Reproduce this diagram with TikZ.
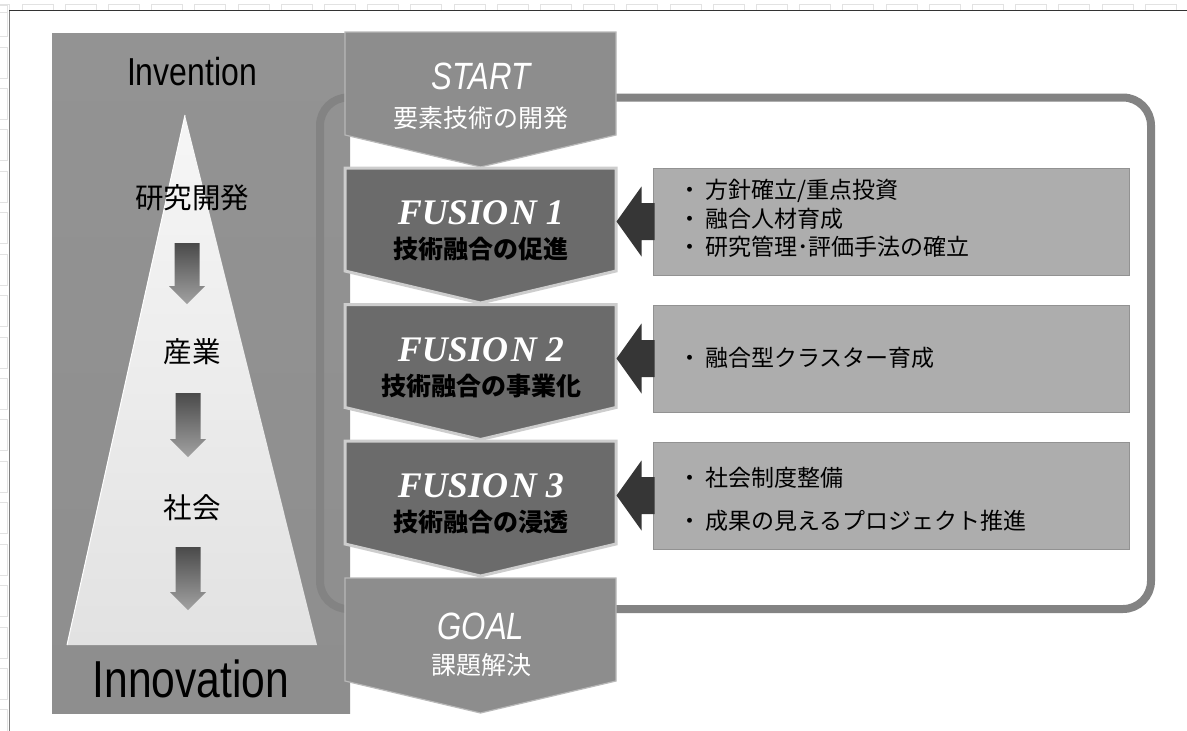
\documentclass[tikz,border=0pt]{standalone}
\usepackage{fontspec}
\setmainfont{Liberation Sans}
\newfontfamily\narrow[FakeStretch=0.82]{Liberation Sans}
\newfontfamily\jp{Noto Sans CJK JP}
\newfontfamily\serifbi{Liberation Serif}
\usetikzlibrary{calc}
\definecolor{panelTop}{HTML}{939393}
\definecolor{panelMid}{HTML}{E6E6E6}
\definecolor{panelBot}{HTML}{8E8E8E}
\definecolor{frameGray}{HTML}{838383}
\definecolor{startFill}{HTML}{8D8D8D}
\definecolor{startEdge}{HTML}{B8B8B8}
\definecolor{fusFill}{HTML}{6B6B6B}
\definecolor{fusEdge}{HTML}{CDCDCD}
\definecolor{boxFill}{HTML}{ADADAD}
\definecolor{boxEdge}{HTML}{929292}
\definecolor{darkArrow}{HTML}{363636}
\definecolor{gridGray}{HTML}{E2E2E2}
\definecolor{triTop}{HTML}{F6F6F6}
\definecolor{triBot}{HTML}{E2E2E2}
\definecolor{arrTop}{HTML}{4A4A4A}
\definecolor{arrBot}{HTML}{A2A2A2}
\tikzset{
  rbox/.style={draw=boxEdge, fill=boxFill, line width=1pt, inner sep=0pt, minimum width=476pt, minimum height=107pt},
  btxt/.style={font=\jp\fontsize{23}{23}\selectfont, anchor=west, inner sep=0pt},
  ftxt/.style={font=\serifbi\bfseries\itshape\fontsize{36}{36}\selectfont, text=white, inner sep=0pt},
  fjp/.style={font=\jp\bfseries\fontsize{25}{25}\selectfont, text=black, inner sep=0pt},
  stxt/.style={font=\narrow\itshape\fontsize{38}{38}\selectfont, text=white, inner sep=0pt},
  sjp/.style={font=\jp\fontsize{25}{25}\selectfont, text=white, inner sep=0pt},
  ljp/.style={font=\jp\fontsize{28.5}{28.5}\selectfont, text=black, inner sep=0pt},
  startblk/.style={fill=startFill, draw=startEdge, line width=1.2pt, line join=miter},
  fusblk/.style={fill=fusFill, draw=fusEdge, line width=3pt, line join=miter},
}
% pentagon block: #1 = top y (px, downward), #2 = style
\newcommand{\pentblk}[2]{%
  \path[#2] (345,{-#1}) -- (616,{-#1}) -- (616,{-(#1+103)}) -- (480.5,{-(#1+135)}) -- (345,{-(#1+103)}) -- cycle;}
% down arrow on the left: #1 = centre x, #2 = top y, #3 = tip y
\newcommand{\dnarrow}[3]{%
  \shade[top color=arrTop, bottom color=arrBot] ({#1-12.5},{-#2}) -- ({#1+12.5},{-#2}) -- ({#1+12.5},{-(#3-18)}) -- ({#1+18},{-(#3-18)}) -- (#1,{-#3}) -- ({#1-18},{-(#3-18)}) -- ({#1-12.5},{-(#3-18)}) -- cycle;}
% fat arrow pointing left out of a box
\newcommand{\fatarrow}[1]{%
  \fill[darkArrow] ($(#1.west)+(2,18.5)$) -- ($(#1.west)+(-11,18.5)$) -- ($(#1.west)+(-11,35)$) -- ($(#1.west)+(-36,0)$) -- ($(#1.west)+(-11,-35)$) -- ($(#1.west)+(-11,-18.5)$) -- ($(#1.west)+(2,-18.5)$) -- cycle;}
\begin{document}
\begin{tikzpicture}[x=1pt,y=1pt]
\useasboundingbox (0,0) rectangle (1187,-731);
\fill[white] (0,0) rectangle (1187,-731);
% faint sheet grid
\foreach \i in {-1,...,27} {\draw[gridGray, line width=0.8pt] ({22+43.2*\i},-4) rectangle ({53+43.2*\i},-12);}
\foreach \k in {-1,...,17} {\draw[gridGray, line width=0.8pt] (-3,{-(47+41.43*\k)}) rectangle (7,{-(78+41.43*\k)});}
\fill[white] (8,-11) rectangle (1187,-731);
\draw[black!80, line width=1pt] (9,-10.5) -- (1187,-10.5);
\draw[gray, line width=1pt] (9,-10.5) -- (9,-731);
% left panel
\shade[top color=panelTop, middle color=panelMid, bottom color=panelBot] (52,-33) rectangle (350,-713);
% frame
\draw[frameGray, line width=8pt, rounded corners=28pt] (320,-97.5) rectangle (1151,-609);
% triangle
\shade[top color=triTop, bottom color=triBot] (185,-115) -- (317,-645) -- (67,-645) -- cycle;
\draw[white, line width=1pt] (185,-115) -- (67,-645);
% left arrows
\dnarrow{187}{243}{304}
\dnarrow{188}{393}{457}
\dnarrow{188}{547}{610}
% left texts
\node[font=\narrow\fontsize{39}{39}\selectfont, inner sep=0pt] (inv) at (192,-72) {Invention};
\node[font=\narrow\fontsize{52}{52}\selectfont, inner sep=0pt] (inn) at (191,-679) {Innovation};
\node[ljp] (l1) at (192,-198) {研究開発};
\node[ljp] (l2) at (192,-352) {産業};
\node[ljp] (l3) at (192,-508) {社会};
% centre column
\pentblk{32}{startblk}
\pentblk{168}{fusblk}
\pentblk{304.5}{fusblk}
\pentblk{441}{fusblk}
\pentblk{578}{startblk}
\node[stxt] (st) at (481,-76) {START};
\node[sjp] (stj) at (481,-118) {要素技術の開発};
\node[ftxt] (f1) at (481,-213) {FUSIO\kern3pt N 1};
\node[fjp] (f1j) at (481,-249) {技術融合の促進};
\node[ftxt] (f2) at (481,-350) {FUSIO\kern3pt N 2};
\node[fjp] (f2j) at (481,-386) {技術融合の事業化};
\node[ftxt] (f3) at (481,-486) {FUSIO\kern3pt N 3};
\node[fjp] (f3j) at (481,-522) {技術融合の浸透};
\node[stxt] (gl) at (481,-626) {GOAL};
\node[sjp] (glj) at (481,-665) {課題解決};
% right boxes and arrows
\node[rbox] (b1) at (891,-221.5) {};
\node[rbox] (b2) at (891,-358.5) {};
\node[rbox] (b3) at (891,-495.5) {};
\fatarrow{b1}
\fatarrow{b2}
\fatarrow{b3}
\node[btxt] (t11) at (678,-191) {・\hspace{4pt}方針確立/重点投資};
\node[btxt] (t12) at (678,-219) {・\hspace{4pt}融合人材育成};
\node[btxt] (t13) at (678,-247) {・\hspace{4pt}研究管理･評価手法の確立};
\node[btxt] (t21) at (678,-358) {・\hspace{4pt}融合型クラスター育成};
\node[btxt] (t31) at (678,-478) {・\hspace{4pt}社会制度整備};
\node[btxt] (t32) at (678,-521) {・\hspace{4pt}成果の見えるプロジェクト推進};
\end{tikzpicture}
\end{document}
